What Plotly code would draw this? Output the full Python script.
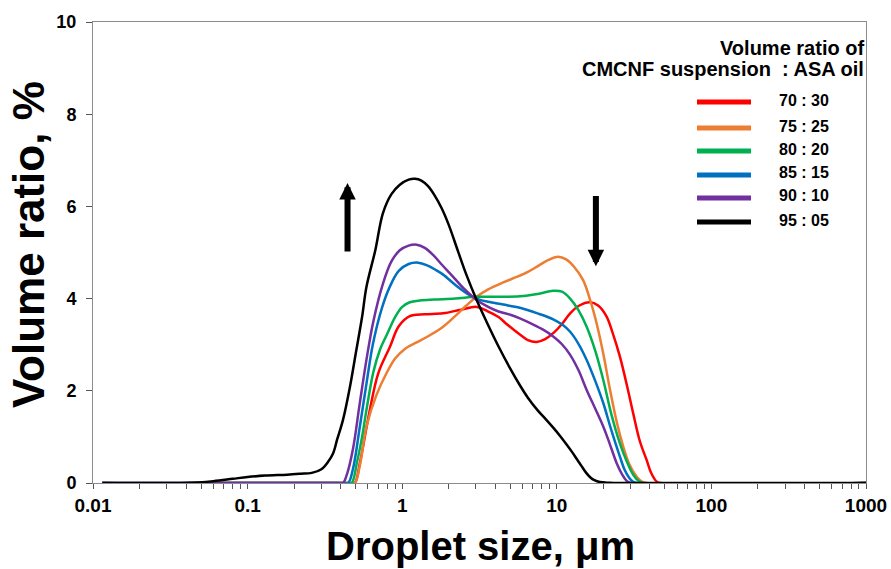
import plotly.graph_objects as go
import math

# ---------------- data ----------------
series_names = ["70 : 30", "75 : 25", "80 : 20", "85 : 15", "90 : 10", "95 : 05"]
series_colors = ["#FF0000", "#ED7D31", "#00B050", "#0070C0", "#7030A0", "#000000"]

x_7030 = [0.0115, 0.45, 0.493, 0.53, 0.617, 0.70, 0.832, 0.95, 1.12, 1.4, 1.84, 2.4, 3.03, 3.6, 4.2, 4.73, 5.77, 6.5, 7.4, 8.4, 9.48, 10.8, 12.2, 14.0, 16.4, 18.5, 21.0, 23.0, 25.6, 28.5, 31.2, 34.5, 38.1, 41.0, 44.3, 47, 1000]
y_7030 = [0, 0, 0, 0.4, 1.58, 2.38, 2.95, 3.4, 3.62, 3.66, 3.68, 3.76, 3.82, 3.72, 3.6, 3.45, 3.22, 3.1, 3.06, 3.12, 3.25, 3.45, 3.68, 3.85, 3.92, 3.85, 3.61, 3.25, 2.74, 2.1, 1.51, 0.9, 0.5, 0.2, 0.03, 0, 0]

x_7525 = [0.0115, 0.45, 0.493, 0.53, 0.587, 0.68, 0.791, 0.9, 1.05, 1.24, 1.5, 1.84, 2.2, 2.6, 3.03, 3.6, 4.5, 5.5, 6.5, 7.5, 8.7, 10.2, 11.5, 13.0, 14.8, 16.5, 18.1, 20.0, 22.1, 24.5, 26.9, 29.5, 32.8, 35.5, 38.1, 1000]
y_7525 = [0, 0, 0, 0.35, 1.22, 1.9, 2.38, 2.7, 2.92, 3.05, 3.2, 3.39, 3.62, 3.85, 4.04, 4.2, 4.35, 4.47, 4.58, 4.7, 4.83, 4.91, 4.85, 4.68, 4.4, 3.95, 3.46, 2.8, 2.02, 1.3, 0.79, 0.4, 0.14, 0.03, 0, 0]

x_8020 = [0.0115, 0.43, 0.47, 0.51, 0.55, 0.587, 0.65, 0.72, 0.791, 0.9, 1.0, 1.12, 1.3, 1.6, 2.2, 3.03, 4.2, 5.77, 7.5, 9.48, 10.8, 12.2, 13.8, 15.6, 17.8, 20.0, 22.5, 25.6, 28.5, 31.2, 34.0, 36.3, 1000]
y_8020 = [0, 0, 0, 0.45, 1.0, 1.58, 2.4, 2.9, 3.2, 3.6, 3.82, 3.92, 3.96, 3.98, 4.0, 4.04, 4.04, 4.05, 4.1, 4.17, 4.15, 4.0, 3.75, 3.39, 2.85, 2.23, 1.5, 0.86, 0.45, 0.18, 0.04, 0, 0]

x_8515 = [0.0115, 0.41, 0.447, 0.48, 0.532, 0.59, 0.648, 0.74, 0.832, 0.95, 1.1, 1.27, 1.45, 1.65, 1.84, 2.2, 2.6, 3.03, 3.6, 4.5, 5.77, 7.5, 9.48, 11.0, 12.2, 13.8, 15.6, 17.8, 20.0, 22.5, 25.6, 27.5, 29.3, 31.0, 32.9, 1000]
y_8515 = [0, 0, 0, 0.3, 1.22, 2.2, 3.03, 3.8, 4.26, 4.6, 4.75, 4.78, 4.72, 4.62, 4.52, 4.3, 4.12, 4.0, 3.93, 3.87, 3.8, 3.68, 3.55, 3.42, 3.28, 3.02, 2.67, 2.2, 1.73, 1.15, 0.57, 0.28, 0.12, 0.03, 0, 0]

x_9010 = [0.0115, 0.38, 0.414, 0.44, 0.481, 0.53, 0.587, 0.65, 0.752, 0.85, 0.965, 1.1, 1.24, 1.4, 1.6, 1.8, 2.1, 2.5, 3.03, 3.6, 4.2, 5.0, 5.77, 7.0, 8.2, 9.48, 10.8, 12.2, 13.8, 15.6, 17.8, 20.0, 22.0, 24.4, 26.5, 28.2, 29.8, 1000]
y_9010 = [0, 0, 0, 0.2, 0.75, 1.7, 2.67, 3.5, 4.33, 4.8, 5.05, 5.15, 5.17, 5.1, 4.93, 4.74, 4.5, 4.22, 3.97, 3.82, 3.72, 3.65, 3.57, 3.44, 3.32, 3.18, 3.01, 2.78, 2.45, 2.02, 1.6, 1.22, 0.85, 0.43, 0.18, 0.05, 0, 0]

x_9505 = [0.0115, 0.04, 0.06, 0.08, 0.1, 0.13, 0.18, 0.22, 0.26, 0.3, 0.33, 0.357, 0.38, 0.414, 0.46, 0.5, 0.55, 0.587, 0.67, 0.75, 0.85, 0.965, 1.1, 1.21, 1.33, 1.47, 1.62, 1.8, 2.0, 2.3, 2.6, 3.03, 3.5, 4.2, 5.0, 5.77, 6.5, 7.5, 8.5, 9.48, 10.5, 11.6, 12.5, 13.4, 14.5, 15.5, 16.5, 17.5, 19.0, 22.0, 25.0, 1000]
y_9505 = [0, 0, 0.04, 0.09, 0.13, 0.16, 0.18, 0.2, 0.22, 0.3, 0.45, 0.64, 0.95, 1.37, 2.1, 2.8, 3.6, 4.25, 5.05, 5.85, 6.26, 6.47, 6.58, 6.6, 6.56, 6.44, 6.24, 5.96, 5.6, 5.02, 4.52, 3.97, 3.51, 2.96, 2.48, 2.12, 1.85, 1.58, 1.38, 1.2, 1.02, 0.83, 0.68, 0.53, 0.36, 0.22, 0.12, 0.06, 0.02, 0.005, 0, 0]

series_x = [x_7030, x_7525, x_8020, x_8515, x_9010, x_9505]
series_y = [y_7030, y_7525, y_8020, y_8515, y_9010, y_9505]

x_major = [0.01, 0.1, 1, 10, 100, 1000]
x_major_labels = ["0.01", "0.1", "1", "10", "100", "1000"]
y_ticks = [0, 2, 4, 6, 8, 10]

legend_title_lines = ["Volume ratio of", "CMCNF suspension  : ASA oil"]
x_title = "Droplet size, μm"
y_title = "Volume ratio, %"

# arrows: (x, tail y, head y)
arrow_up = (0.443, 4.99, 6.51)
arrow_down = (17.9, 6.26, 4.70)

# ---------------- figure ----------------
W, H = 891, 569
L, R, T, B = 93, 25, 22, 86
pw, ph = W - L - R, H - T - B

def px_x(p):
    return (p - L) / pw

def px_y(p):
    return (H - B - p) / ph

fig = go.Figure()
for name, col, xs, ys in zip(series_names, series_colors, series_x, series_y):
    fig.add_trace(go.Scatter(x=xs, y=ys, mode="lines", name=name,
                             line=dict(color=col, width=2.5, shape="spline", smoothing=1.0),
                             showlegend=False))

# tick values including minor ticks
tickvals, ticktext = [], []
for i, v in enumerate(x_major):
    tickvals.append(v)
    ticktext.append(x_major_labels[i])
    if i < len(x_major) - 1:
        for m in range(2, 10):
            tickvals.append(v * m)
            ticktext.append("")

axis_col = "#8c8c8c"
fig.update_xaxes(type="log", range=[-2, 3], tickvals=tickvals, ticktext=ticktext,
                 ticks="outside", ticklen=5, tickwidth=1, tickcolor="#555555",
                 showline=True, linecolor=axis_col, linewidth=1, mirror=True,
                 showgrid=False, zeroline=False, automargin=False,
                 tickfont=dict(family="Liberation Sans, Arial", size=19, color="#000000", weight="bold"))
fig.update_yaxes(range=[0, 10], tickvals=y_ticks,
                 ticks="outside", ticklen=6, tickwidth=1, tickcolor="#555555",
                 showline=True, linecolor=axis_col, linewidth=1, mirror=True,
                 showgrid=False, zeroline=False, ticklabelstandoff=6, automargin=False,
                 tickfont=dict(family="Liberation Sans, Arial", size=18, color="#000000", weight="bold"))

annotations = []
shapes = []
bold = dict(family="Liberation Sans, Arial", color="#000000", weight="bold")

# axis titles
annotations.append(dict(text=x_title, xref="paper", yref="paper", x=px_x(480), y=px_y(546),
                        xanchor="center", yanchor="middle", showarrow=False,
                        font=dict(size=40, **bold)))
annotations.append(dict(text=y_title, xref="paper", yref="paper", x=px_x(29), y=px_y(245),
                        xanchor="center", yanchor="middle", showarrow=False, textangle=-90,
                        font=dict(size=44, **bold)))

# legend (custom)
for line_text, ly in zip(legend_title_lines, [48, 69]):
    annotations.append(dict(text=line_text, xref="paper", yref="paper", x=px_x(866), y=px_y(ly),
                            xanchor="right", yanchor="middle", align="right", showarrow=False,
                            font=dict(size=20, **bold)))
row_y = [100, 126, 149, 173, 196, 220]
for name, col, ry in zip(series_names, series_colors, row_y):
    shapes.append(dict(type="line", xref="paper", yref="paper", x0=px_x(697), x1=px_x(751),
                       y0=px_y(ry + 2), y1=px_y(ry + 2), line=dict(color=col, width=5)))
    annotations.append(dict(text=name, xref="paper", yref="paper", x=px_x(777), y=px_y(ry),
                            xanchor="left", yanchor="middle", showarrow=False,
                            font=dict(size=16, **bold)))

# arrows
for ax_, tail, head in [arrow_up, arrow_down]:
    annotations.append(dict(text="", x=math.log10(ax_), y=head, ax=math.log10(ax_), ay=tail,
                            xref="x", yref="y", axref="x", ayref="y",
                            showarrow=True, arrowhead=2, arrowsize=0.55, arrowwidth=6,
                            arrowcolor="#000000", standoff=0, startstandoff=0))

fig.update_layout(width=W, height=H, margin=dict(l=L, r=R, t=T, b=B),
                  paper_bgcolor="white", plot_bgcolor="white", hovermode=False,
                  annotations=annotations, shapes=shapes, showlegend=False)

fig.write_html("out.html", config={"displayModeBar": False, "staticPlot": True},
               post_script="document.body.style.margin='0';document.body.style.overflow='hidden';")
